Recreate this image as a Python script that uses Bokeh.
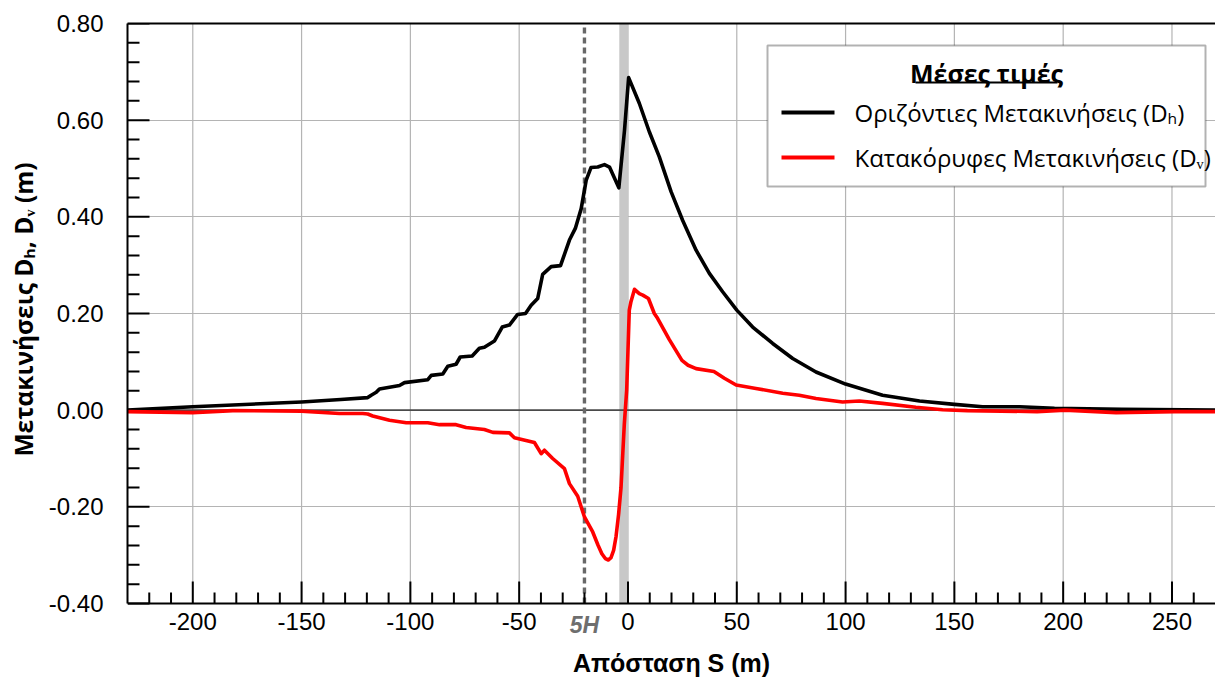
from bokeh.plotting import figure
from bokeh.models import (Range1d, NumeralTickFormatter, Span, BoxAnnotation, Label,
                          LinearAxis, FixedTicker, Title)
from bokeh.embed import file_html
from bokeh.resources import INLINE

# ---- data ----
S_h = [-230, -200, -150, -132, -119.6, -118, -115.7, -114.2, -105, -102.7, -92, -90.4,
       -85.1, -82.8, -79, -77.1, -71.6, -68.3, -66, -61.4, -57.8, -54.5, -50.7, -47.1,
       -44.5, -41.5, -39.2, -35.3, -31, -26.9, -24.2, -21.5, -19.2, -17, -13.9, -10.8,
       -8.5, -4.2, -1.6, 0.3, 5.2, 9.8, 14.4, 19.8, 25.1, 31.3, 37.4, 43.5, 50, 57.3,
       66.5, 75.7, 86.4, 100, 117, 134, 150, 163, 180, 196, 227, 270]
D_h = [0.0, 0.007, 0.017, 0.022, 0.026, 0.031, 0.037, 0.044, 0.051, 0.057, 0.063, 0.072,
       0.075, 0.091, 0.095, 0.110, 0.112, 0.128, 0.130, 0.143, 0.172, 0.176, 0.198, 0.200,
       0.217, 0.231, 0.281, 0.297, 0.299, 0.352, 0.376, 0.417, 0.476, 0.502, 0.503, 0.508,
       0.503, 0.460, 0.579, 0.688, 0.635, 0.576, 0.524, 0.452, 0.393, 0.331, 0.283, 0.245,
       0.207, 0.172, 0.138, 0.107, 0.079, 0.054, 0.031, 0.019, 0.012, 0.007, 0.007, 0.004,
       0.002, 0.0]

S_v = [-230, -200, -181.6, -150, -132.6, -121.9, -119.6, -117.3, -109.6, -101.9, -92,
       -86.6, -79, -74.4, -66, -62.1, -54.5, -52.2, -43, -39.9, -38.4, -34.6, -29.2,
       -26.9, -23.1, -20, -16.2, -13.8, -12.0, -10.4, -9.0, -7.8, -6.6, -5.5, -4.3, -3.2,
       -1.7, -0.6, 0.6, 1.4, 3.0, 5.2, 6.8, 9.4, 12.1, 13.6, 19, 24.8, 27.6, 31.3, 39.5,
       44.3, 49.7, 58.8, 71.1, 78.7, 86.4, 98.6, 106.3, 117, 132.3, 144.6, 156, 188,
       200.8, 224.3, 251, 270]
D_v = [-0.003, -0.005, -0.001, -0.002, -0.007, -0.007, -0.008, -0.012, -0.021, -0.026,
       -0.026, -0.030, -0.030, -0.036, -0.040, -0.046, -0.047, -0.057, -0.067, -0.090,
       -0.083, -0.100, -0.121, -0.152, -0.178, -0.221, -0.252, -0.279, -0.297, -0.307,
       -0.310, -0.305, -0.290, -0.262, -0.215, -0.160, -0.030, 0.041, 0.207, 0.225,
       0.250, 0.241, 0.238, 0.231, 0.200, 0.190, 0.146, 0.103, 0.093, 0.086, 0.080,
       0.066, 0.052, 0.045, 0.035, 0.031, 0.024, 0.017, 0.019, 0.014, 0.006, 0.001,
       -0.001, -0.003, 0.0, -0.005, -0.003, -0.003]

x_major_step, x_minor_step = 50, 10
y_major_step, y_minor_step = 0.2, 0.04
x_limits = (-230, 270)
y_limits = (-0.4, 0.8)
five_h = -20          # 5H marker position
band = (-4, 0)        # grey band at the face

title_text = "Μέσες τιμές"
label_h = "Οριζόντιες Μετακινήσεις (Dₕ)"
label_v = "Κατακόρυφες Μετακινήσεις (Dᵥ)"
x_title = "Απόσταση S (m)"
y_title = "Μετακινήσεις Dₕ, Dᵥ (m)"
five_h_text = "5H"

# ---- layout ----
W, H = 1215, 680
FL, FT, FR, FB = 127, 23, 1215, 603      # plotting area of the chart (pixels)
X0, X1 = x_limits
Y0, Y1 = y_limits
PX_X = (X1 - X0) / (FR - FL)   # data units per pixel
PX_Y = (Y1 - Y0) / (FB - FT)
Y_BOTTOM = Y0 - (H - FB) * PX_Y   # frame runs to the canvas bottom


def dx(px):
    return X0 + (px - FL) * PX_X


def dy(py):
    return Y1 - (py - FT) * PX_Y


p = figure(width=W, height=H, x_range=Range1d(X0, X1), y_range=Range1d(Y_BOTTOM, Y1),
           output_backend="svg", toolbar_location=None,
           min_border_left=FL, min_border_right=0, min_border_top=FT,
           min_border_bottom=0)
p.background_fill_color = "white"
p.border_fill_color = "white"
p.outline_line_color = None

# tick positions
x_major = [v for v in range(-1000, 1001, x_major_step) if X0 < v < X1]
x_minor = [v for v in range(-1000, 1001, x_minor_step)
           if X0 < v < X1 and v % x_major_step != 0]
ny = int(round((Y1 - Y0) / y_minor_step))
y_all = [round(Y0 + i * y_minor_step, 4) for i in range(ny + 1)]
y_major = [v for v in y_all if abs(v / y_major_step - round(v / y_major_step)) < 1e-6]
y_minor = [v for v in y_all if v not in y_major]

xax = p.xaxis[0]
yax = p.yaxis[0]
xax.ticker = FixedTicker(ticks=x_major)
yax.ticker = FixedTicker(ticks=y_major)
xax.formatter = NumeralTickFormatter(format="0")
yax.formatter = NumeralTickFormatter(format="0.00")
xax.fixed_location = Y0
yax.bounds = (Y0, Y1)
xax.bounds = (X0, X1)

p.xgrid.visible = False
p.ygrid.ticker = FixedTicker(ticks=y_major)
p.ygrid.grid_line_color = "#b4b4b4"
p.ygrid.grid_line_width = 1.2

for ax in (xax, yax):
    ax.axis_line_color = "black"
    ax.axis_line_width = 2
    ax.major_tick_line_color = None
    ax.minor_tick_line_color = None
    ax.major_tick_in = 0
    ax.major_tick_out = 0
    ax.minor_tick_in = 0
    ax.minor_tick_out = 0
    ax.major_label_text_font = "Liberation Sans"
    ax.major_label_text_font_size = "24px"
    ax.major_label_text_color = "black"
    ax.axis_label_text_color = "black"

xax.major_label_standoff = 9
yax.major_label_standoff = 24
xax.axis_label = x_title
xax.axis_label_text_font = "Liberation Sans"
xax.axis_label_text_font_style = "bold"
xax.axis_label_text_font_size = "25px"
xax.axis_label_standoff = 16

# y-axis title: placed in the left side panel, aligned to the chart area
p.add_layout(Title(text=y_title, align="left", offset=H - 456, standoff=9,
                   vertical_align="middle", text_font="Open Sans",
                   text_font_style="bold", text_font_size="24.5px",
                   text_color="black"), "left")

top_axis = LinearAxis(ticker=FixedTicker(ticks=[]), axis_line_width=2,
                      axis_line_color="black", major_label_text_font_size="0px",
                      major_tick_line_color=None, minor_tick_line_color=None)
p.add_layout(top_axis, "above")

# vertical grid lines (limited to the chart area)
p.segment(x0=x_major, x1=x_major, y0=[Y0] * len(x_major), y1=[Y1] * len(x_major),
          line_color="#b4b4b4", line_width=1.2, level="underlay")

# grey band and reference lines
p.add_layout(BoxAnnotation(left=band[0], right=band[1], bottom=Y0, top=Y1,
                           fill_color="#c8c8c8", fill_alpha=1, line_color=None,
                           level="underlay"))
p.add_layout(Span(location=0, dimension="width", line_color="#4a4a4a",
                  line_width=1.6, level="underlay"))
p.segment(x0=[five_h], x1=[five_h], y0=[Y0], y1=[Y1], line_color="#686868",
          line_width=3.4, line_dash="6 4")

# inward tick marks
tick_kw = dict(line_color="black", line_width=2)
p.segment(x0=x_major, x1=x_major, y0=[Y0] * len(x_major),
          y1=[Y0 + 22 * PX_Y] * len(x_major), **tick_kw)
p.segment(x0=x_minor, x1=x_minor, y0=[Y0] * len(x_minor),
          y1=[Y0 + 11 * PX_Y] * len(x_minor), **tick_kw)
p.segment(x0=[X0] * len(y_major), x1=[X0 + 22 * PX_X] * len(y_major),
          y0=y_major, y1=y_major, **tick_kw)
p.segment(x0=[X0] * len(y_minor), x1=[X0 + 12 * PX_X] * len(y_minor),
          y0=y_minor, y1=y_minor, **tick_kw)

# curves
p.line(S_h, D_h, line_color="black", line_width=3.6, line_join="round")
p.line(S_v, D_v, line_color="#ff0000", line_width=3.6, line_join="round")

# 5H label
p.add_layout(Label(x=five_h, y=dy(624), text=five_h_text, text_align="center",
                   text_baseline="middle", text_font="Liberation Sans",
                   text_font_style="bold italic", text_font_size="23px",
                   text_color="#6e6e6e"))

# legend
p.add_layout(BoxAnnotation(left=dx(767), right=dx(1205), top=dy(45), bottom=dy(186),
                           fill_color="white", fill_alpha=1, line_color="black",
                           line_width=2))
p.add_layout(Label(x=dx(986), y=dy(72), text=title_text, text_align="center",
                   text_baseline="middle", text_font="Open Sans",
                   text_font_style="bold", text_font_size="25px", text_color="black"))
p.add_layout(BoxAnnotation(left=dx(915), right=dx(1057), top=dy(81), bottom=dy(83),
                           fill_color="black", fill_alpha=1, line_color=None))
for yy, col, txt in ((112, "black", label_h), (157, "#ff0000", label_v)):
    p.add_layout(BoxAnnotation(left=dx(781), right=dx(834), top=dy(yy - 2),
                               bottom=dy(yy + 2), fill_color=col, fill_alpha=1,
                               line_color=None))
    p.add_layout(Label(x=dx(854), y=dy(yy), text=txt, text_align="left",
                       text_baseline="middle", text_font="Open Sans",
                       text_font_size="24px", text_color="black"))

open("out.html", "w").write(file_html(p, INLINE))
